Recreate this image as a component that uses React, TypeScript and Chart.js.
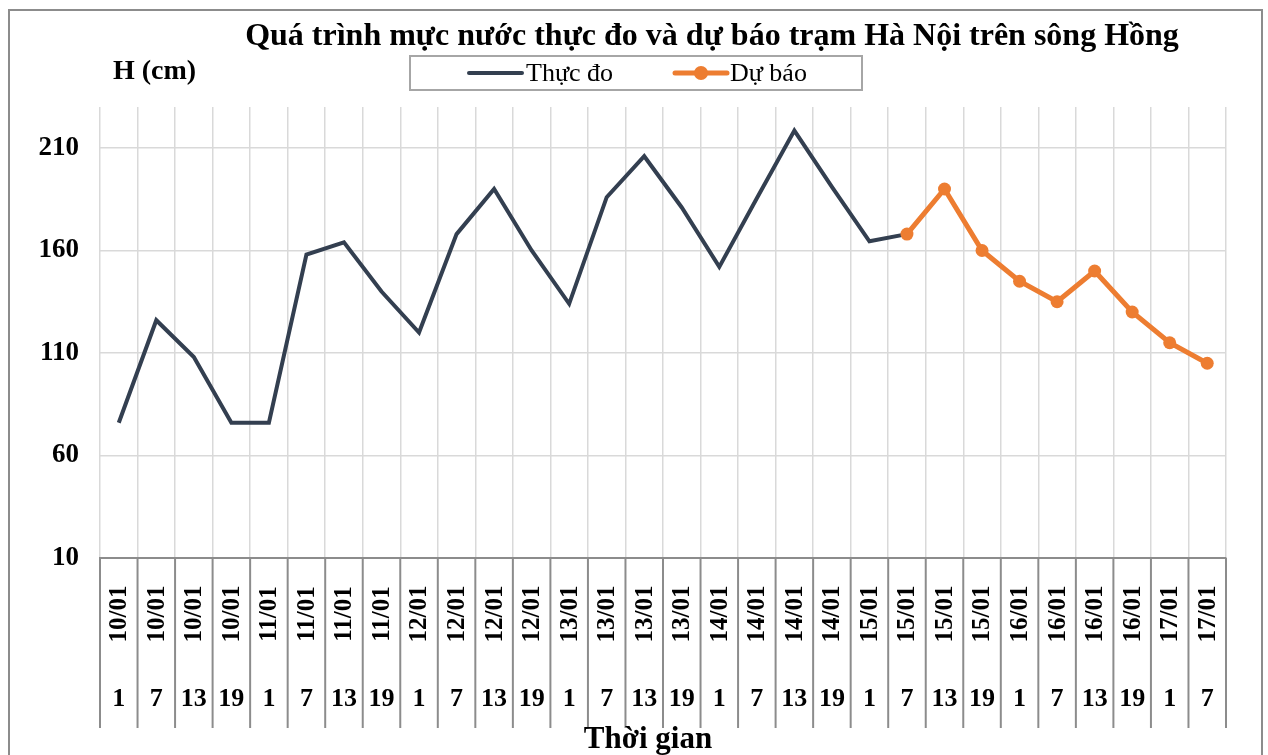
import React, { useEffect, useRef } from "react";
import { Chart, registerables } from "chart.js";

Chart.register(...registerables);

const dates = [
  "10/01", "10/01", "10/01", "10/01",
  "11/01", "11/01", "11/01", "11/01",
  "12/01", "12/01", "12/01", "12/01",
  "13/01", "13/01", "13/01", "13/01",
  "14/01", "14/01", "14/01", "14/01",
  "15/01", "15/01", "15/01", "15/01",
  "16/01", "16/01", "16/01", "16/01",
  "17/01", "17/01",
];
const hours = [
  "1", "7", "13", "19", "1", "7", "13", "19", "1", "7", "13", "19",
  "1", "7", "13", "19", "1", "7", "13", "19", "1", "7", "13", "19",
  "1", "7", "13", "19", "1", "7",
];
const actual: (number | null)[] = [
  76, 126, 108, 76, 76, 158, 164, 140, 120, 168, 190, 160,
  134, 186, 206, 181, 152, 185.5, 218.5, 191, 164.5, 168,
  null, null, null, null, null, null, null, null,
];
const forecast: (number | null)[] = [
  null, null, null, null, null, null, null, null, null, null, null, null,
  null, null, null, null, null, null, null, null, null,
  168, 190, 160, 145, 135, 150, 130, 115, 105,
];
const yTicks = [10, 60, 110, 160, 210];

const TITLE = "Quá trình mực nước thực đo và dự báo trạm Hà Nội trên sông Hồng";
const Y_TITLE = "H (cm)";
const X_TITLE = "Thời gian";
const ACTUAL_LABEL = "Thực đo";
const FORECAST_LABEL = "Dự báo";

const NAVY = "#333F50";
const ORANGE = "#ED7D31";
const FONT = "'Liberation Serif', 'Times New Roman', serif";

const decorPlugin = {
  id: "decor",
  afterDraw(chart: any) {
    const ctx = chart.ctx as CanvasRenderingContext2D;
    const xs = chart.scales.x;
    const area = chart.chartArea;
    ctx.save();

    // outer border
    ctx.strokeStyle = "#8c8c8c";
    ctx.lineWidth = 2;
    ctx.strokeRect(9, 10, 1253, 800);

    // title
    ctx.fillStyle = "#000";
    ctx.textAlign = "center";
    ctx.textBaseline = "middle";
    ctx.font = `bold 32px ${FONT}`;
    ctx.fillText(TITLE, 712, 37);

    // y title
    ctx.textAlign = "left";
    ctx.font = `bold 28px ${FONT}`;
    ctx.fillText(Y_TITLE, 113, 72);

    // legend box
    ctx.strokeStyle = "#a6a6a6";
    ctx.lineWidth = 2;
    ctx.strokeRect(410, 56, 452, 34);
    const ly = 73;
    ctx.lineCap = "round";
    ctx.strokeStyle = NAVY;
    ctx.lineWidth = 4;
    ctx.beginPath();
    ctx.moveTo(469, ly);
    ctx.lineTo(522, ly);
    ctx.stroke();
    ctx.strokeStyle = ORANGE;
    ctx.lineWidth = 5;
    ctx.beginPath();
    ctx.moveTo(675, ly);
    ctx.lineTo(727, ly);
    ctx.stroke();
    ctx.fillStyle = ORANGE;
    ctx.beginPath();
    ctx.arc(701, ly, 7, 0, Math.PI * 2);
    ctx.fill();
    ctx.fillStyle = "#000";
    ctx.font = `26px ${FONT}`;
    ctx.textAlign = "left";
    ctx.fillText(ACTUAL_LABEL, 526, ly + 1);
    ctx.fillText(FORECAST_LABEL, 730, ly + 1);

    // x-axis separators
    ctx.strokeStyle = "#8c8c8c";
    ctx.lineWidth = 2;
    ctx.lineCap = "butt";
    for (let i = 0; i <= dates.length; i++) {
      const x = xs.getPixelForValue(i - 0.5);
      ctx.beginPath();
      ctx.moveTo(x, area.bottom);
      ctx.lineTo(x, 728);
      ctx.stroke();
    }

    // x labels
    ctx.fillStyle = "#000";
    for (let i = 0; i < dates.length; i++) {
      const x = xs.getPixelForValue(i);
      ctx.save();
      ctx.font = `bold 25px ${FONT}`;
      ctx.translate(x + 1, 614);
      ctx.rotate(-Math.PI / 2);
      ctx.textAlign = "center";
      ctx.textBaseline = "middle";
      ctx.fillText(dates[i], 0, 0);
      ctx.restore();
      ctx.font = `bold 26px ${FONT}`;
      ctx.textAlign = "center";
      ctx.textBaseline = "middle";
      ctx.fillText(hours[i], x, 699);
    }

    // x title
    ctx.font = `bold 31px ${FONT}`;
    ctx.textAlign = "center";
    ctx.textBaseline = "middle";
    ctx.fillText(X_TITLE, 648, 740);

    ctx.restore();
  },
};

export default function App() {
  const ref = useRef<HTMLCanvasElement | null>(null);

  useEffect(() => {
    if (!ref.current) return;
    const labels = dates.map((d, i) => `${d} ${hours[i]}`);
    const chart = new Chart(ref.current, {
      type: "line",
      data: {
        labels,
        datasets: [
          {
            label: ACTUAL_LABEL,
            data: actual,
            borderColor: NAVY,
            backgroundColor: NAVY,
            borderWidth: 4,
            pointRadius: 0,
            pointHoverRadius: 0,
            tension: 0,
            spanGaps: false,
            order: 2,
          },
          {
            label: FORECAST_LABEL,
            data: forecast,
            borderColor: ORANGE,
            backgroundColor: ORANGE,
            borderWidth: 5,
            pointRadius: 6.5,
            pointBorderWidth: 0,
            pointBackgroundColor: ORANGE,
            tension: 0,
            spanGaps: false,
            order: 1,
          },
        ],
      },
      options: {
        responsive: false,
        animation: false,
        devicePixelRatio: 1,
        layout: { padding: { left: 0, right: 42, top: 107, bottom: 0 } },
        plugins: {
          legend: { display: false },
          title: { display: false },
          tooltip: { enabled: false },
        },
        scales: {
          x: {
            type: "category",
            offset: true,
            ticks: { display: false },
            grid: {
              offset: true,
              color: "#d9d9d9",
              lineWidth: 1.5,
              drawTicks: false,
            },
            border: { display: true, color: "#8c8c8c", width: 2 },
            afterFit: (scale: any) => {
              scale.height = 197;
            },
          },
          y: {
            type: "linear",
            min: 10,
            max: 230,
            afterBuildTicks: (scale: any) => {
              scale.ticks = yTicks.map((v) => ({ value: v }));
            },
            afterFit: (scale: any) => {
              scale.width = 100;
            },
            ticks: {
              padding: 21,
              color: "#000",
              font: { family: FONT, size: 27, weight: "bold" },
            },
            grid: { color: "#d9d9d9", lineWidth: 1.5, drawTicks: false },
            border: { display: false },
          },
        },
      },
      plugins: [decorPlugin],
    });
    return () => chart.destroy();
  }, []);

  return (
    <div
      style={{
        position: "fixed",
        left: 0,
        top: 0,
        width: 1268,
        height: 755,
        background: "#fff",
        overflow: "hidden",
      }}
    >
      <canvas ref={ref} width={1268} height={755} style={{ width: 1268, height: 755 }} />
    </div>
  );
}
